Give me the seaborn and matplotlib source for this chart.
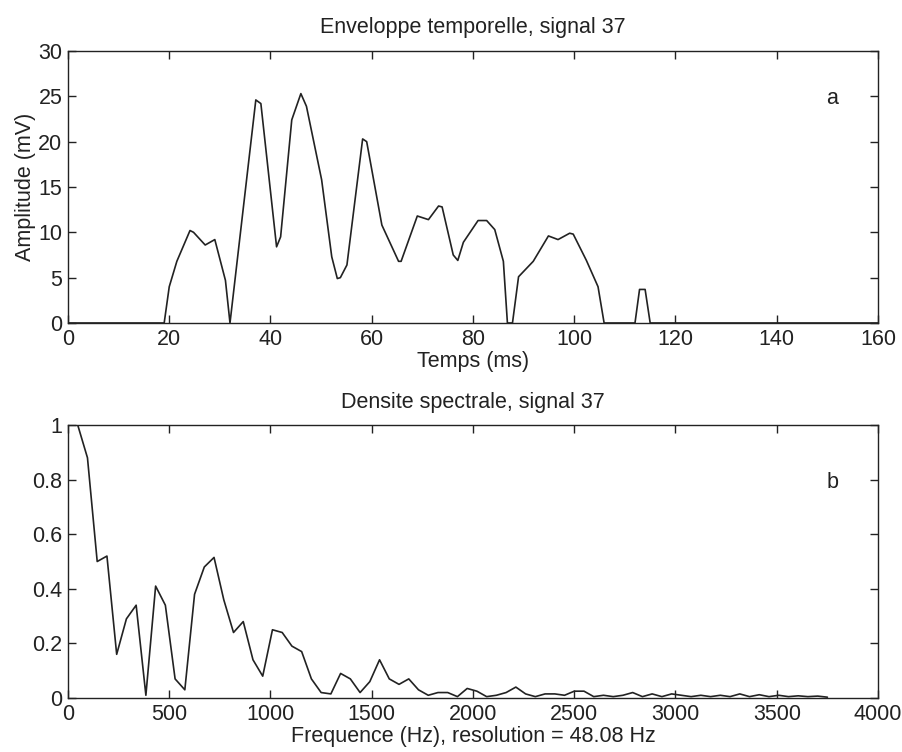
import numpy as np
import pandas as pd
import matplotlib
matplotlib.use("Agg")
import matplotlib.pyplot as plt
import seaborn as sns

# Temporal envelope of signal 37 (time in ms, amplitude in mV)
temps_ms = [0, 19.0, 20.0, 21.5, 24.1, 24.8, 27.1, 29.0, 31.1, 32.0,
            37.1, 38.1, 41.2, 42.0, 44.2, 46.0, 47.1, 50.1, 52.1, 53.2,
            53.8, 55.1, 58.2, 59.0, 62.0, 65.3, 65.8, 69.0, 71.2, 73.2,
            73.9, 76.1, 77.0, 78.1, 81.0, 82.7, 84.3, 86.0, 86.8, 87.8,
            89.0, 91.9, 94.9, 96.8, 99.1, 99.8, 102.4, 104.7, 105.9, 112.0,
            112.9, 114.0, 115.0, 160.0]
amplitude_mv = [0, 0, 4.0, 6.8, 10.2, 10.0, 8.6, 9.2, 4.7, 0,
                24.6, 24.2, 8.4, 9.5, 22.4, 25.3, 23.9, 15.8, 7.3, 4.9,
                5.0, 6.4, 20.3, 20.0, 10.8, 6.8, 6.8, 11.8, 11.4, 12.9,
                12.8, 7.5, 6.9, 8.9, 11.3, 11.3, 10.3, 6.8, 0, 0,
                5.1, 6.8, 9.6, 9.2, 9.9, 9.8, 6.9, 4.0, 0, 0,
                3.7, 3.7, 0, 0]

# Normalised spectral density, one value per 48.08 Hz bin
resolution_hz = 48.08
densite = [1.00, 0.88, 0.50, 0.52, 0.16, 0.29, 0.34, 0.01, 0.41, 0.34,
           0.07, 0.03, 0.38, 0.48, 0.515, 0.36, 0.24, 0.28, 0.14, 0.08,
           0.25, 0.24, 0.19, 0.17, 0.07, 0.02, 0.015, 0.09, 0.07, 0.02,
           0.06, 0.14, 0.07, 0.05, 0.07, 0.03, 0.01, 0.02, 0.02, 0.005,
           0.035, 0.025, 0.005, 0.01, 0.02, 0.04, 0.015, 0.005, 0.015, 0.015,
           0.01, 0.025, 0.025, 0.005, 0.01, 0.005, 0.01, 0.02, 0.005, 0.015,
           0.005, 0.015, 0.01, 0.005, 0.01, 0.005, 0.01, 0.005, 0.015, 0.005,
           0.012, 0.005, 0.01, 0.005, 0.008, 0.005, 0.007, 0.003]
frequence_hz = resolution_hz * np.arange(1, len(densite) + 1)

x_ticks_a = [0, 20, 40, 60, 80, 100, 120, 140, 160]
y_ticks_a = [0, 5, 10, 15, 20, 25, 30]
x_ticks_b = [0, 500, 1000, 1500, 2000, 2500, 3000, 3500, 4000]
y_ticks_b = [0, 0.2, 0.4, 0.6, 0.8, 1]
y_labels_b = ["0", "0.2", "0.4", "0.6", "0.8", "1"]

sns.set_theme(style="white")
plt.rcParams["font.family"] = ["Liberation Sans", "DejaVu Sans"]
FS = 15.5
ink = "#222222"

fig = plt.figure(figsize=(9.03, 7.52), dpi=100)
ax_a = fig.add_axes([0.0753, 0.5705, 0.897, 0.3617])
ax_b = fig.add_axes([0.0753, 0.0718, 0.897, 0.3630])

env = pd.DataFrame({"t": temps_ms, "amp": amplitude_mv})
spec = pd.DataFrame({"f": frequence_hz, "d": densite})

sns.lineplot(data=env, x="t", y="amp", ax=ax_a, sort=False, estimator=None,
             color=ink, linewidth=1.2)
sns.lineplot(data=spec, x="f", y="d", ax=ax_b, sort=False, estimator=None,
             color=ink, linewidth=1.2)


def style_axes(ax):
    for s in ax.spines.values():
        s.set_visible(True)
        s.set_color(ink)
        s.set_linewidth(1.0)
    ax.tick_params(direction="in", length=6, width=1.0, color=ink,
                   top=True, right=True, bottom=True, left=True,
                   labelsize=FS, labelcolor=ink, pad=4)
    ax.grid(False)


ax_a.set_xlim(0, 160)
ax_a.set_ylim(0, 30)
ax_a.set_xticks(x_ticks_a)
ax_a.set_yticks(y_ticks_a)
ax_a.set_xlabel("Temps (ms)", fontsize=FS, color=ink, labelpad=1)
ax_a.set_ylabel("Amplitude (mV)", fontsize=FS, color=ink, labelpad=2)
ax_a.set_title("Enveloppe temporelle, signal 37", fontsize=FS, color=ink, pad=13)
ax_a.text(151, 24.8, "a", fontsize=FS, color=ink, ha="center", va="center")
style_axes(ax_a)

ax_b.set_xlim(0, 4000)
ax_b.set_ylim(0, 1)
ax_b.set_xticks(x_ticks_b)
ax_b.set_yticks(y_ticks_b)
ax_b.set_yticklabels(y_labels_b)
ax_b.set_xlabel("Frequence (Hz), resolution = 48.08 Hz", fontsize=FS,
                color=ink, labelpad=1)
ax_b.set_ylabel("")
ax_b.set_title("Densite spectrale, signal 37", fontsize=FS, color=ink, pad=12)
ax_b.text(3778, 0.79, "b", fontsize=FS, color=ink, ha="center", va="center")
style_axes(ax_b)

fig.savefig("out.png", dpi=100, facecolor="white")
